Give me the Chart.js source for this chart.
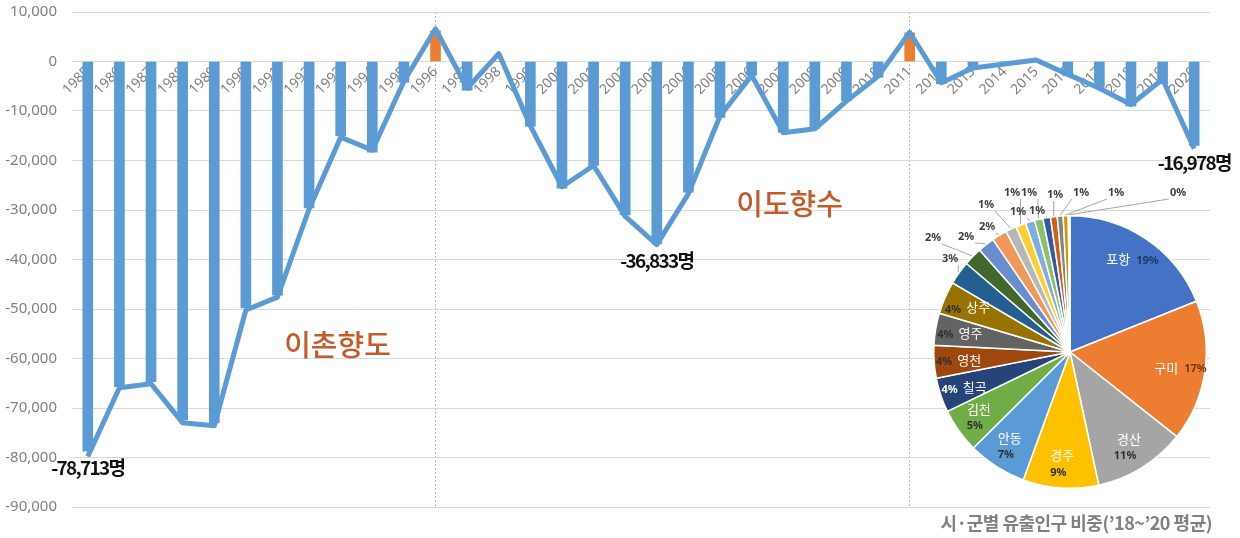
<!DOCTYPE html>
<html>
<head>
<meta charset="utf-8">
<script src="https://cdn.jsdelivr.net/npm/chart.js@4.4.1/dist/chart.umd.min.js"></script>
<style>
  body { margin: 0; background: #fff; }
  #wrap { position: relative; width: 1240px; height: 538px; }
  #main { position: absolute; left: 0; top: 0; }
  #pie { position: absolute; left: 900px; top: 182px; }
</style>
</head>
<body>
<div id="wrap">
  <canvas id="main" width="1240" height="538"></canvas>
  <canvas id="pie" width="340" height="340"></canvas>
</div>
<script>
// 연도별 순이동 (명)
const years = ['1985','1986','1987','1988','1989','1990','1991','1992','1993','1994','1995','1996',
  '1997','1998','1999','2000','2001','2002','2003','2004','2005','2006','2007','2008',
  '2009','2010','2011','2012','2013','2014','2015','2016','2017','2018','2019','2020'];
const netFlow = [-78713, -65700, -64700, -72400, -73000, -49800, -47200, -29600, -15000, -18300, -4200, 6200,
  -5800, 0, -13100, -25600, -21000, -31000, -36833, -26400, -11300, -2800, -14300, -13500,
  -7900, -3200, 5800, -4500, -1500, -800, 0, -2900, -5200, -9000, -4500, -16978];
const flowTrend = [-79800, -65900, -65100, -73000, -73600, -50200, -47600, -29800, -15300, -17900, -4000, 6600,
  -5400, 1600, -13000, -25300, -21000, -31300, -37000, -26700, -11000, -2800, -14400, -13600,
  -8000, -3000, 5900, -4300, -1300, -500, 300, -2600, -5400, -8700, -3600, -17600];
const yMin = -90000, yMax = 10000, yStep = 10000;
const calloutYears = ['1985', '2003', '2020'];
const markerYears = ['1996', '2011'];

// 시·군별 유출인구 비중
const pieRegions = ['포항','구미','경산','경주','안동','김천','칠곡','영천','영주','상주',
  '기타1','기타2','기타3','기타4','기타5','기타6','기타7','기타8','기타9','기타10','기타11','기타12','기타13'];
const pieShares = [19.0, 16.8, 11.0, 9.0, 7.0, 5.3, 4.1, 3.9, 3.8, 3.9,
  2.8, 2.2, 2.0, 1.8, 1.3, 1.2, 1.1, 1.0, 0.9, 0.8, 0.7, 0.6, 0.2];
const pieColors = ['#4472c4','#ed7d31','#a5a5a5','#ffc000','#5b9bd5','#70ad47','#264478','#9e480e','#636363','#997300',
  '#255e91','#43682b','#698ed0','#f1975a','#b7b7b7','#ffcd33','#7cafdd','#8cc168','#335aa1','#d26012','#848484','#cc9a00','#bdd7ee'];

Chart.defaults.font.family = "'Noto Sans', 'Noto Sans CJK KR', sans-serif";

const annotate = {
  id: 'annotate',
  afterDatasetsDraw(chart) {
    const { ctx, scales: { x, y } } = chart;
    const bars = chart.getDatasetMeta(0).data;
    ctx.save();
    // 값 라벨
    ctx.font = "bold 19px 'Noto Sans CJK KR'";
    ctx.letterSpacing = '-1.7px';
    ctx.fillStyle = '#111';
    ctx.textAlign = 'center';
    ctx.textBaseline = 'middle';
    calloutYears.forEach(yr => {
      const i = years.indexOf(yr);
      ctx.fillText(netFlow[i].toLocaleString('en-US') + '명', bars[i].x, bars[i].y + 17);
    });
    // 구간 라벨
    ctx.letterSpacing = '0px';
    ctx.font = "500 29px 'Noto Sans CJK KR'";
    ctx.fillStyle = '#c55a28';
    ctx.fillText('이촌향도', x.getPixelForValue(7.9), y.getPixelForValue(-57300));
    ctx.fillText('이도향수', x.getPixelForValue(22.2), y.getPixelForValue(-28700));
    // 캡션
    ctx.font = "bold 18px 'Noto Sans CJK KR'";
    ctx.letterSpacing = '-0.5px';
    ctx.fillStyle = '#808080';
    ctx.textAlign = 'right';
    ctx.textBaseline = 'alphabetic';
    ctx.fillText('시·군별 유출인구 비중(’18~’20 평균)', 1212, 530);
    ctx.restore();
  }
};

new Chart(document.getElementById('main'), {
  data: {
    labels: years,
    datasets: [{
      type: 'bar',
      data: netFlow,
      backgroundColor: ctx => ctx.raw >= 0 ? '#ed7d31' : '#5b9bd5',
      barThickness: 10,
      order: 2
    }, {
      type: 'line',
      data: flowTrend,
      borderColor: '#5b9bd5',
      borderWidth: 5,
      borderJoinStyle: 'round',
      pointRadius: 0,
      tension: 0,
      order: 1
    }]
  },
  options: {
    responsive: false,
    animation: false,
    layout: { padding: { top: 1, right: 30, bottom: 31, left: 0 } },
    plugins: { legend: { display: false }, tooltip: { enabled: false } },
    scales: {
      x: {
        position: { y: 0 },
        grid: {
          offset: false,
          drawTicks: false,
          color: ctx => markerYears.includes(years[ctx.index]) ? '#b4b4c8' : 'rgba(0,0,0,0)'
        },
        border: { display: false, dash: [2, 2] },
        ticks: { color: '#808080', font: { size: 14 }, minRotation: 45, maxRotation: 45, autoSkip: false, padding: 2 }
      },
      y: {
        min: yMin,
        max: yMax,
        grid: { color: '#d9d9d9', drawTicks: true, tickLength: 12, tickColor: 'rgba(0,0,0,0)' },
        border: { display: false },
        ticks: { stepSize: yStep, color: '#808080', font: { size: 15 }, padding: 3 },
        afterFit: s => { s.width = 72; }
      }
    }
  },
  plugins: [annotate]
});

// 작은 조각 라벨 위치 (파이 중심 기준)
const outerLabelOffsets = [[-120,-93],[-137,-114],[-104,-115],[-83,-125],[-84,-147],[-58,-159],
  [-52,-140],[-41,-159],[-33,-141],[-15,-157],[11,-159],[46,-159],[108,-159]];

const pieLabels = {
  id: 'pieLabels',
  afterDatasetsDraw(chart) {
    const { ctx } = chart;
    const arcs = chart.getDatasetMeta(0).data;
    const total = pieShares.reduce((a, b) => a + b, 0);
    ctx.save();
    ctx.textBaseline = 'middle';
    arcs.forEach((el, i) => {
      const pct = Math.round(pieShares[i] / total * 100) + '%';
      const mid = (el.startAngle + el.endAngle) / 2;
      const r = el.outerRadius;
      const deg = (mid + Math.PI / 2) * 180 / Math.PI;
      if (i < 10) {
        const px = el.x + Math.cos(mid) * r * 0.82;
        const py = el.y + Math.sin(mid) * r * 0.82;
        const nameFont = "13px 'Noto Sans CJK KR'";
        const pctFont = "bold 11px 'Noto Sans'";
        const pctColor = i === 0 ? '#203864' : i === 1 ? '#7a3608' : i === 6 ? '#ffffff' : '#303030';
        ctx.font = nameFont; const nw = ctx.measureText(pieRegions[i]).width;
        ctx.font = pctFont; const pw = ctx.measureText(pct).width;
        ctx.textAlign = 'left';
        if (deg < 120) {
          const sx = px - (nw + 6 + pw) / 2;
          ctx.font = nameFont; ctx.fillStyle = '#fff'; ctx.fillText(pieRegions[i], sx, py);
          ctx.font = pctFont; ctx.fillStyle = pctColor; ctx.fillText(pct, sx + nw + 6, py + 1);
        } else if (deg < 245) {
          ctx.textAlign = 'center';
          ctx.font = nameFont; ctx.fillStyle = '#fff'; ctx.fillText(pieRegions[i], px, py - 8);
          ctx.font = pctFont; ctx.fillStyle = pctColor; ctx.fillText(pct, px - 4, py + 9);
        } else {
          const sx = px - (nw + 5 + pw) / 2;
          ctx.font = pctFont; ctx.fillStyle = pctColor; ctx.fillText(pct, sx, py + 2);
          ctx.font = nameFont; ctx.fillStyle = '#fff'; ctx.fillText(pieRegions[i], sx + pw + 5, py);
        }
      } else {
        const [dx, dy] = outerLabelOffsets[i - 10];
        const lx = el.x + dx, ly = el.y + dy;
        const ax = el.x + Math.cos(mid) * (r + 1), ay = el.y + Math.sin(mid) * (r + 1);
        const ex = lx + Math.max(-9, Math.min(9, ax - lx));
        const ey = ly + Math.max(-6, Math.min(6, ay - ly));
        ctx.strokeStyle = '#a6a6a6';
        ctx.lineWidth = 1;
        ctx.beginPath(); ctx.moveTo(ax, ay); ctx.lineTo(ex, ey); ctx.stroke();
        ctx.font = "bold 11px 'Noto Sans'";
        ctx.fillStyle = '#404040';
        ctx.textAlign = 'center';
        ctx.fillText(pct, lx, ly);
      }
    });
    ctx.restore();
  }
};

new Chart(document.getElementById('pie'), {
  type: 'pie',
  data: {
    labels: pieRegions,
    datasets: [{ data: pieShares, backgroundColor: pieColors, borderColor: '#ffffff', borderWidth: 1.5 }]
  },
  options: {
    responsive: false,
    animation: false,
    layout: { padding: 33 },
    plugins: { legend: { display: false }, tooltip: { enabled: false } }
  },
  plugins: [pieLabels]
});
</script>
</body>
</html>
